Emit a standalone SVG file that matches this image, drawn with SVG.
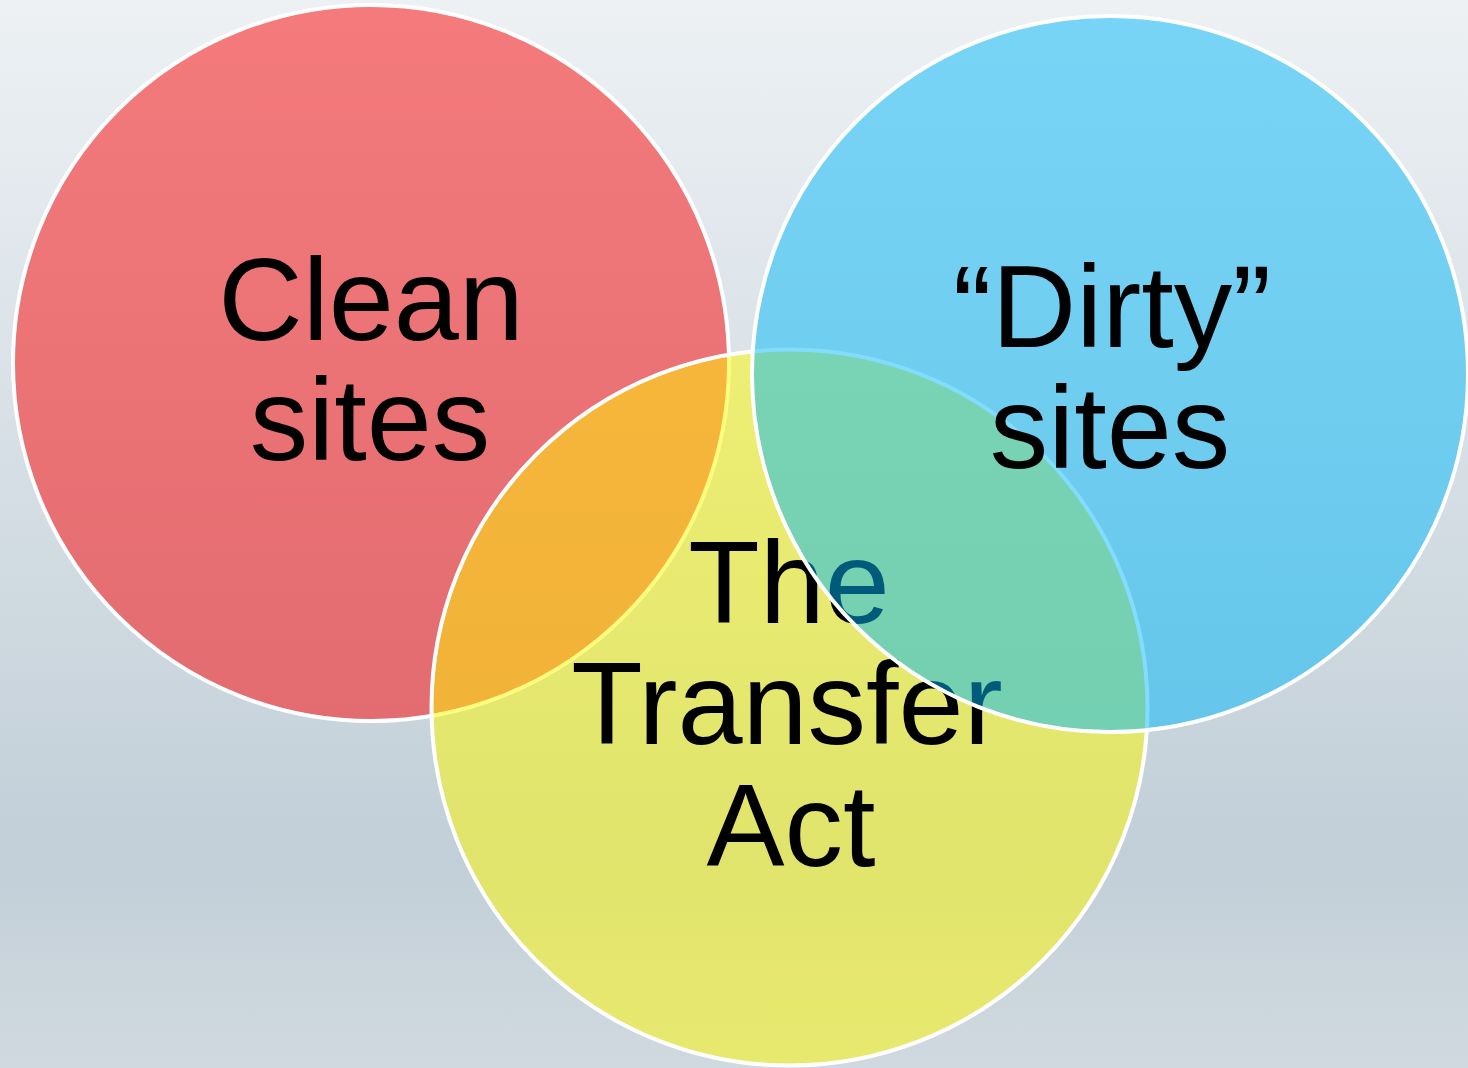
<svg xmlns="http://www.w3.org/2000/svg" width="1468" height="1068" viewBox="0 0 1468 1068">
  <defs>
    <linearGradient id="bg" x1="0" y1="0" x2="0" y2="1">
      <stop offset="0" stop-color="#EDF1F4"/>
      <stop offset="0.8" stop-color="#C2CFD8"/>
      <stop offset="1" stop-color="#D0D9DF"/>
    </linearGradient>
    <style>
      .circle { stroke: #FFFFFF; stroke-width: 4; }
      .red { fill: rgb(252,4,4); fill-opacity: 0.5; }
      .yellow { fill: rgb(255,250,0); fill-opacity: 0.5; }
      .blue { fill: rgb(0,184,249); fill-opacity: 0.49; }
      .label { font-family: "Liberation Sans", Arial, sans-serif; font-size: 117px; fill: #000000; text-anchor: middle; }
    </style>
  </defs>
  <rect x="0" y="0" width="1468" height="1068" fill="url(#bg)"/>
  <g id="clean-sites">
    <circle class="circle red" cx="371" cy="363" r="358"/>
    <text class="label"><tspan x="371" y="340">Clean</tspan><tspan x="370" y="460">sites</tspan></text>
  </g>
  <g id="transfer-act">
    <circle class="circle yellow" cx="789.5" cy="707.5" r="358"/>
    <text class="label"><tspan x="789" y="623">The</tspan><tspan x="787" y="744">Transfer</tspan><tspan x="791" y="866">Act</tspan></text>
  </g>
  <g id="dirty-sites">
    <circle class="circle blue" cx="1110" cy="374" r="358"/>
    <text class="label"><tspan x="1112" y="347">“Dirty”</tspan><tspan x="1110" y="468">sites</tspan></text>
  </g>
  <g id="connectors"/>
</svg>
